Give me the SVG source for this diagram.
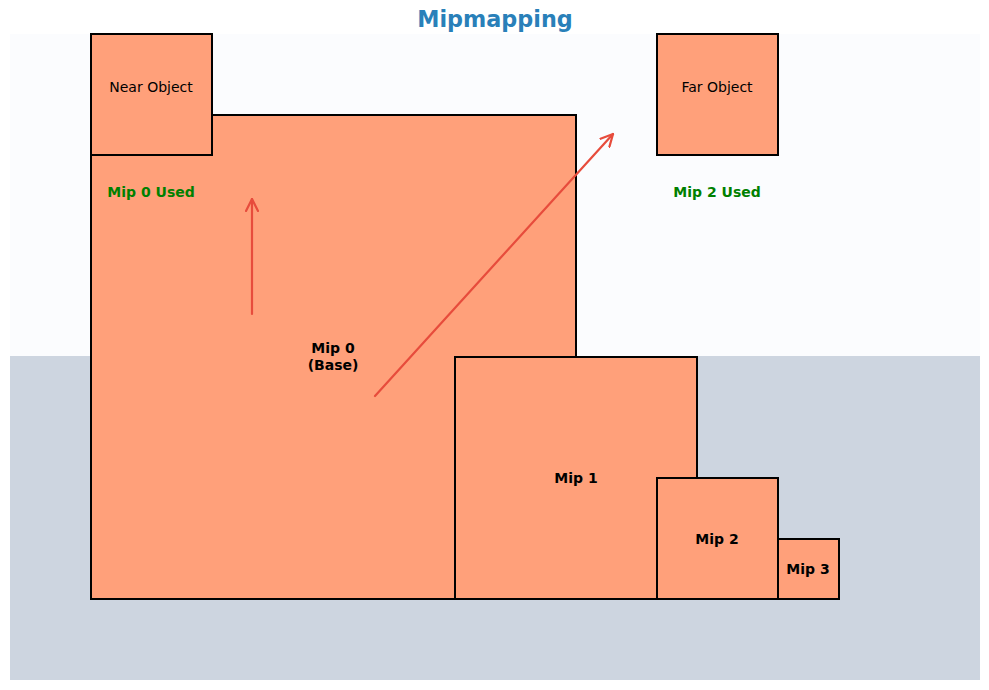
<svg xmlns="http://www.w3.org/2000/svg" width="989" height="690" viewBox="0 0 989 690">
<style>
.box{fill:#ffa07a;stroke:#000;stroke-width:2}
.lbl{font-family:"DejaVu Sans",sans-serif;font-size:14px;fill:#000;text-anchor:middle}
.b{font-weight:bold}
.used{font-family:"DejaVu Sans",sans-serif;font-size:14px;font-weight:bold;fill:#008000;text-anchor:middle}
.arr{stroke:#e74c3c;stroke-width:2.2;fill:none;stroke-linecap:round}
</style>
<defs>
<marker id="ah" viewBox="0 0 14 14" refX="13" refY="7" markerWidth="14" markerHeight="14" markerUnits="userSpaceOnUse" orient="auto">
<path d="M1,1 L13,7 L1,13" fill="none" stroke="#e74c3c" stroke-width="2.2" stroke-linecap="round"/>
</marker>
</defs>
<rect width="989" height="690" fill="#fff"/>
<rect x="10" y="34" width="970" height="322" fill="#fbfcfe"/>
<rect x="10" y="356" width="970" height="324" fill="#cdd5e0"/>
<text x="495" y="27" font-family="DejaVu Sans,sans-serif" font-size="22.3" font-weight="bold" fill="#2980b9" text-anchor="middle">Mipmapping</text>
<g id="mip0"><rect class="box" x="91" y="115" width="485" height="484"/><text class="lbl b" x="333" y="353">Mip 0</text><text class="lbl b" x="333" y="370">(Base)</text></g>
<g id="mip1"><rect class="box" x="455" y="357" width="242" height="242"/><text class="lbl b" x="576" y="483">Mip 1</text></g>
<g id="mip2"><rect class="box" x="657" y="478" width="121" height="121"/><text class="lbl b" x="717" y="544">Mip 2</text></g>
<g id="mip3"><rect class="box" x="778" y="539" width="61" height="60"/><text class="lbl b" x="808" y="574">Mip 3</text></g>
<g id="near"><rect class="box" x="91" y="34" width="121" height="121"/><text class="lbl" x="151" y="92">Near Object</text><text class="used" x="151" y="197">Mip 0 Used</text></g>
<g id="far"><rect class="box" x="657" y="34" width="121" height="121"/><text class="lbl" x="717" y="92">Far Object</text><text class="used" x="717" y="197">Mip 2 Used</text></g>
<g id="connectors">
<line class="arr" x1="252" y1="314" x2="252" y2="199" marker-end="url(#ah)"/>
<line class="arr" x1="375" y1="396" x2="613" y2="134" marker-end="url(#ah)"/>
</g>
</svg>
